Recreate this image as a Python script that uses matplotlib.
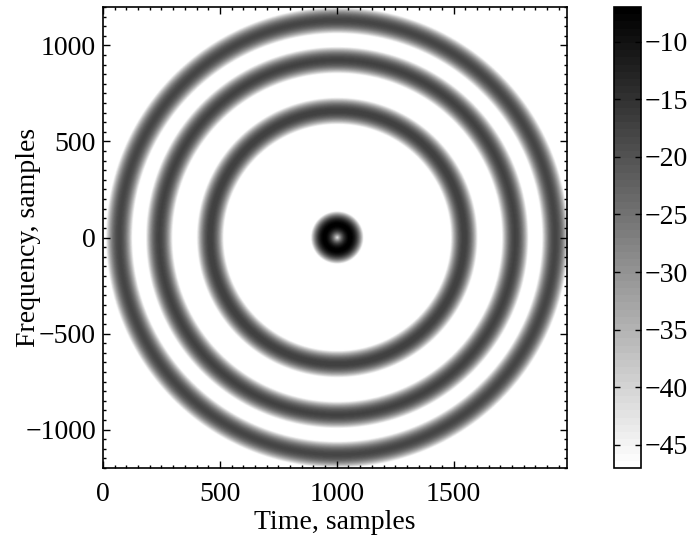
import numpy as np
import matplotlib
matplotlib.use("Agg")
import matplotlib.pyplot as plt
from matplotlib.colors import ListedColormap
from matplotlib.ticker import MultipleLocator

plt.rcParams['font.family'] = ['Liberation Serif', 'DejaVu Serif']
plt.rcParams['font.size'] = 20

# ring features (centre of the pattern and each ring)
centro_tiempo = 1000
centro_frec = 0
radio_tiempo = [55, 543, 761, 932]      # samples, along time
radio_frec = [67, 660, 925, 1132]       # samples, along frequency
pico_db = [-7, -17, -17.5, -18]         # level on the ring crest
semiancho_tiempo = [58, 58, 58, 58]     # half width of each ring (time samples)
caida_db = [40, 30, 30, 30]             # drop from crest to edge

x_lim = [0, 1985]
y_lim = [-1200, 1200]
c_lim = [-47, -7]
x_ticks = [0, 500, 1000, 1500]
y_ticks = [-1000, -500, 0, 500, 1000]
c_ticks = [-45, -40, -35, -30, -25, -20, -15, -10]

t = np.linspace(x_lim[0], x_lim[1], 700)
f = np.linspace(y_lim[0], y_lim[1], 700)
T, F = np.meshgrid(t, f)

Z = np.full(T.shape, -60.0)
for rt, rf, pk, hw, cd in zip(radio_tiempo, radio_frec, pico_db, semiancho_tiempo, caida_db):
    r = np.sqrt(((T - centro_tiempo) / rt) ** 2 + ((F - centro_frec) / rf) ** 2)
    d = (r - 1) * rt / hw
    Z = np.maximum(Z, pk - cd * d ** 2)
Z = np.clip(Z, c_lim[0], c_lim[1])

cmap = ListedColormap(plt.cm.gray_r(np.linspace(0, 1, 64)))

def menos(v):
    return ('\u2212%d' % abs(v)) if v < 0 else str(v)

fig = plt.figure(figsize=(6.89, 5.4), dpi=100)
ax = fig.add_axes([0.1495, 0.1333, 0.6735, 0.8537])
cax = fig.add_axes([0.891, 0.1333, 0.039, 0.8537])

im = ax.imshow(Z, cmap=cmap, vmin=c_lim[0], vmax=c_lim[1], origin='lower',
               extent=[x_lim[0], x_lim[1], y_lim[0], y_lim[1]], aspect='auto',
               interpolation='bilinear')
ax.set_xlim(x_lim)
ax.set_ylim(y_lim)
ax.set_xticks(x_ticks)
ax.set_yticks(y_ticks)
ax.set_yticklabels([menos(v) for v in y_ticks])
ax.xaxis.set_minor_locator(MultipleLocator(50))
ax.yaxis.set_minor_locator(MultipleLocator(50))
ax.tick_params(which='both', direction='in', top=True, right=True, width=1)
ax.tick_params(which='major', length=5)
ax.tick_params(axis='x', which='major', pad=10)
ax.tick_params(axis='y', which='major', pad=5)
ax.tick_params(which='minor', length=2.5)
ax.set_xlabel('Time, samples', labelpad=2)
ax.set_ylabel('Frequency, samples')
ax.yaxis.set_label_coords(-0.134, 0.5)
for s in ax.spines.values():
    s.set_linewidth(1.2)

cb = fig.colorbar(im, cax=cax, ticks=c_ticks)
cb.ax.tick_params(direction='in', length=4, left=True, right=True, width=1, pad=3)
cb.outline.set_linewidth(1.2)
cb.ax.set_yticklabels([menos(v) for v in c_ticks])

fig.savefig('out.png', dpi=100)
